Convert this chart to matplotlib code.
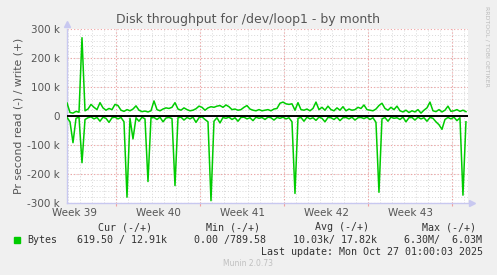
import numpy as np
import matplotlib.pyplot as plt

# --- Data (values in k bytes/s, one sample every 6 hours)
write_k = [45, 12, 10, 16, 13, 270, 18, 24, 40, 30, 22, 46, 28, 20, 26, 22, 40, 36, 20, 16,
           22, 18, 24, 35, 20, 15, 17, 14, 18, 52, 22, 18, 24, 28, 26, 30, 46, 24, 20, 28,
           22, 18, 20, 25, 34, 30, 20, 28, 32, 30, 34, 36, 30, 38, 32, 22, 24, 20, 22, 30,
           36, 24, 20, 18, 22, 18, 20, 22, 18, 24, 26, 44, 48, 42, 40, 42, 20, 46, 22, 20,
           24, 18, 26, 48, 22, 30, 20, 34, 22, 18, 28, 20, 32, 18, 24, 20, 22, 30, 26, 38,
           22, 20, 18, 24, 36, 44, 26, 20, 30, 22, 34, 18, 14, 20, 12, 18, 14, 22, 10, 20,
           28, 48, 18, 15, 22, 14, 20, 34, 16, 18, 22, 16, 20, 15]
read_k = [-5, -20, -92, -8, -4, -161, -12, -6, -3, -10, -5, -18, -4, -8, -22, -6, -4, -10, -5, -20,
          -280, -8, -79, -6, -18, -4, -10, -226, -6, -5, -12, -4, -20, -7, -5, -9, -240, -6, -4, -14,
          -5, -10, -4, -22, -6, -3, -12, -20, -292, -18, -6, -24, -5, -8, -4, -12, -6, -18, -5, -4,
          -10, -6, -16, -4, -8, -5, -12, -4, -6, -14, -5, -8, -4, -10, -6, -20, -267, -8, -5, -18,
          -4, -10, -6, -15, -4, -8, -20, -5, -6, -12, -4, -16, -6, -5, -10, -4, -14, -6, -5, -9,
          -4, -12, -6, -22, -263, -10, -5, -18, -4, -8, -6, -12, -4, -20, -6, -5, -14, -4, -10, -6,
          -18, -5, -8, -20, -30, -46, -12, -5, -10, -4, -16, -6, -273, -20]
step_days = 0.25
week_labels = ["Week 39", "Week 40", "Week 41", "Week 42", "Week 43"]
week_starts = [4.1, 11.1, 18.1, 25.1, 32.1]
yticks = [-300, -200, -100, 0, 100, 200, 300]
ytick_labels = ["-300 k", "-200 k", "-100 k", "0", "100 k", "200 k", "300 k"]

t = np.arange(len(write_k)) * step_days

# --- Figure
bg = "#F0F0F0"
fig = plt.figure(figsize=(4.97, 2.75), dpi=100, facecolor=bg)
ax = fig.add_axes([67 / 497, 1 - 203 / 275, 401 / 497, 174 / 275])
ax.set_facecolor("white")
ax.set_xlim(0, 33.42)
ax.set_ylim(-300, 300)

# grid: minor every day / 20k, major every week / 100k
for d in np.arange(0.1, 33.4, 1.0):
    ax.axvline(d, color="#D8D8D8", lw=0.7, ls=(0, (1, 2)), zorder=1)
for v in np.arange(-280, 300, 20):
    ax.axhline(v, color="#D8D8D8", lw=0.7, ls=(0, (1, 2)), zorder=1)
for d in week_starts:
    ax.axvline(d, color="#F0A0A0", lw=0.8, ls=(0, (1, 2)), zorder=1.5)
for v in yticks:
    ax.axhline(v, color="#F0A0A0", lw=0.8, ls=(0, (1, 2)), zorder=1.5)

# series
ax.plot(t, write_k, color="#00CC00", lw=1.1, zorder=3)
ax.plot(t, read_k, color="#00CC00", lw=1.1, zorder=3)
ax.axhline(0, color="black", lw=1.4, zorder=4)

# axes
for s in ["top", "right"]:
    ax.spines[s].set_visible(False)
for s in ["left", "bottom"]:
    ax.spines[s].set_color("#C8C8F0")
    ax.spines[s].set_linewidth(1.0)
ax.plot([0], [1.03], marker="^", color="#C8C8F0", ms=4, transform=ax.transAxes, clip_on=False)
ax.plot([1.01], [0], marker=">", color="#C8C8F0", ms=4, transform=ax.transAxes, clip_on=False)

ax.set_yticks(yticks)
ax.set_yticklabels(ytick_labels, fontsize=7.5, color="#555555")
ax.tick_params(axis="y", length=0, pad=5)
ax.set_xticks(week_starts)
ax.set_xticklabels([])
ax.tick_params(axis="x", length=2.5, color="#F0A0A0", width=0.8)
for d, lab in zip(week_starts, week_labels):
    ax.text(d - 3.5, -0.03, lab, transform=ax.get_xaxis_transform(),
            ha="center", va="top", fontsize=7.5, color="#555555")

ax.set_ylabel("Pr second read (-) / write (+)", fontsize=7.8, color="#555555", labelpad=3)
fig.text(0.5, 0.93, "Disk throughput for /dev/loop1 - by month", ha="center", va="center",
         fontsize=9, color="#555555")
fig.text(487 / 497, 0.98, "RRDTOOL / TOBI OETIKER", rotation=270, ha="center", va="top",
         fontsize=4.5, color="#BBBBBB")

# legend block
mono = dict(family="DejaVu Sans Mono", fontsize=7.2, color="#333333", va="center")
headers = ["Cur (-/+)", "Min (-/+)", "Avg (-/+)", "Max (-/+)"]
header_x = [125, 233, 342, 449]
values = ["619.50 / 12.91k", "0.00 /789.58", "10.03k/ 17.82k", "6.30M/  6.03M"]
value_x = [77, 194, 293, 404]
for h, x in zip(headers, header_x):
    fig.text(x / 497, 1 - 227 / 275, h, ha="center", **mono)
fig.patches.append(plt.Rectangle((14 / 497, 1 - 243 / 275), 6 / 497, 6 / 275,
                                 color="#00CC00", transform=fig.transFigure))
fig.text(27 / 497, 1 - 240 / 275, "Bytes", ha="left", **mono)
for v, x in zip(values, value_x):
    fig.text(x / 497, 1 - 240 / 275, v, ha="left", **mono)
fig.text(483 / 497, 1 - 252 / 275, "Last update: Mon Oct 27 01:00:03 2025", ha="right", **mono)
fig.text(248 / 497, 1 - 264 / 275, "Munin 2.0.73", ha="center", va="center",
         fontsize=5.5, color="#C0C0C0")

fig.savefig("out.png", dpi=100, facecolor=bg)
